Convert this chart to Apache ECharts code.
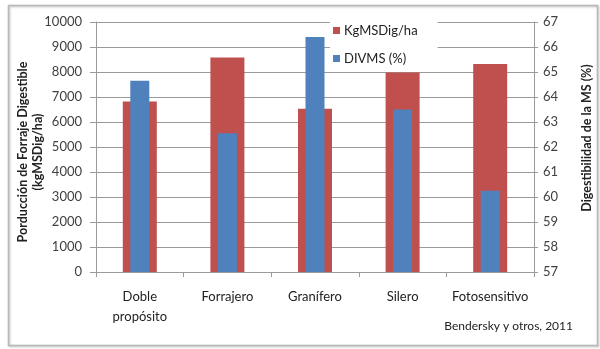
<!DOCTYPE html>
<html>
<head>
<meta charset="utf-8">
<script src="https://cdn.jsdelivr.net/npm/echarts@6/dist/echarts.min.js"></script>
<style>
  html, body { margin: 0; padding: 0; background: #fff; }
  #chart { width: 600px; height: 349px; }
</style>
</head>
<body>
<div id="chart"></div>
<script>
// Sorghum types and their digestible forage production / in-vitro digestibility
const categories = ['Doble\npropósito', 'Forrajero', 'Granífero', 'Silero', 'Fotosensitivo'];
const kgMSDigHa = [6820, 8580, 6530, 7980, 8320];
const divms = [64.65, 62.55, 66.4, 63.5, 60.25];
const leftTicks = { min: 0, max: 10000, interval: 1000 };
const rightTicks = { min: 57, max: 67, interval: 1 };

const FONT = 'Lato, "Open Sans", sans-serif';
const RED = '#C0504D';
const BLUE = '#4F81BD';
const GRID_GRAY = '#9a9a9a';
const TEXT = '#404040';

const chart = echarts.init(document.getElementById('chart'), null, { renderer: 'canvas' });

const axisLabelStyle = { color: TEXT, fontFamily: FONT, fontSize: 13 };

chart.setOption({
  animation: false,
  backgroundColor: '#fff',
  grid: { left: 96, right: 66, top: 22, bottom: 77, containLabel: false },
  legend: {
    orient: 'vertical',
    left: 330,
    top: 21,
    itemWidth: 7,
    itemHeight: 7,
    itemGap: 15,
    icon: 'rect',
    backgroundColor: '#fff',
    padding: [3, 20, 3, 3],
    textStyle: { color: '#222', fontFamily: FONT, fontSize: 13, padding: [0, 0, 0, -1] },
    data: ['KgMSDig/ha', 'DIVMS (%)']
  },
  xAxis: [
    {
      type: 'category',
      data: categories,
      axisLine: { lineStyle: { color: GRID_GRAY } },
      axisTick: { show: true, length: 5, lineStyle: { color: GRID_GRAY } },
      axisLabel: { color: '#222', fontFamily: FONT, fontSize: 13, margin: 15, lineHeight: 20, interval: 0 }
    },
    {
      type: 'category',
      data: categories,
      show: false
    }
  ],
  yAxis: [
    {
      type: 'value',
      min: leftTicks.min, max: leftTicks.max, interval: leftTicks.interval,
      axisLine: { show: true, lineStyle: { color: GRID_GRAY } },
      axisTick: { show: true, length: 6, lineStyle: { color: GRID_GRAY } },
      axisLabel: Object.assign({ margin: 14, formatter: v => String(v) }, axisLabelStyle),
      splitLine: { lineStyle: { color: GRID_GRAY } }
    },
    {
      type: 'value',
      position: 'right',
      min: rightTicks.min, max: rightTicks.max, interval: rightTicks.interval,
      axisLine: { show: true, lineStyle: { color: GRID_GRAY } },
      axisTick: { show: true, length: 4, lineStyle: { color: GRID_GRAY } },
      axisLabel: Object.assign({ margin: 9, formatter: v => String(v) }, axisLabelStyle),
      splitLine: { show: false }
    }
  ],
  series: [
    {
      name: 'KgMSDig/ha',
      type: 'bar',
      xAxisIndex: 0,
      yAxisIndex: 0,
      barWidth: 34,
      itemStyle: { color: RED },
      data: kgMSDigHa
    },
    {
      name: 'DIVMS (%)',
      type: 'bar',
      xAxisIndex: 1,
      yAxisIndex: 1,
      barWidth: 19,
      itemStyle: { color: BLUE },
      data: divms
    }
  ],
  graphic: [
    {
      type: 'rect',
      left: 6, top: 3,
      shape: { width: 589, height: 340 },
      style: { fill: 'none', stroke: '#b8b8b8', lineWidth: 1.5, shadowColor: 'rgba(0,0,0,0.25)', shadowBlur: 2, shadowOffsetX: 1, shadowOffsetY: 1 },
      silent: true
    },
    {
      // left-hand axis title, two lines reading bottom to top
      type: 'text',
      x: 30, y: 152,
      rotation: Math.PI / 2,
      style: { text: 'Porducción de Forraje Digestible\n(kgMSDig/ha)', fill: '#222', font: 'bold 12.5px ' + FONT, lineHeight: 15, align: 'center', verticalAlign: 'middle' }
    },
    {
      // right-hand axis title, reading bottom to top
      type: 'text',
      x: 587, y: 138,
      rotation: Math.PI / 2,
      style: { text: 'Digestibilidad de la MS (%)', fill: '#222', font: 'bold 12.5px ' + FONT, align: 'center', verticalAlign: 'middle' }
    },
    {
      type: 'text',
      right: 27, top: 320,
      style: { text: 'Bendersky y otros, 2011', fill: '#222', font: '12px ' + FONT }
    }
  ]
});
</script>
</body>
</html>
